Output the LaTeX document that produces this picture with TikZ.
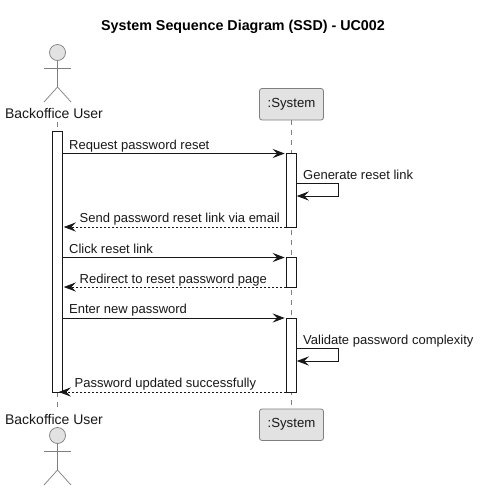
\documentclass[tikz,border=0pt]{standalone}
\usepackage{fontspec}
\setmainfont{Liberation Sans}
\usetikzlibrary{arrows.meta}
\definecolor{ink}{HTML}{181818}
\definecolor{part}{HTML}{E2E2E2}
\definecolor{stroke}{HTML}{7F7F7F}
\tikzset{
  x=1pt,y=-1pt,
  msgtext/.style={anchor=base west,inner sep=0pt,text=ink,font=\fontsize{13}{15}\selectfont},
  actortext/.style={anchor=base,inner sep=0pt,text=ink,font=\fontsize{14}{16}\selectfont},
  titletext/.style={anchor=base,inner sep=0pt,text=black,font=\fontsize{14.3}{16}\selectfont\bfseries},
  bar/.style={draw=ink,fill=white,line width=0.9pt,minimum width=10.5pt,inner sep=0pt,anchor=north,outer sep=0pt},
  partbox/.style={draw=stroke,fill=part,line width=0.8pt,rounded corners=2.5pt,minimum width=64pt,minimum height=31.5pt,inner sep=0pt,text=ink,font=\fontsize{13.2}{16}\selectfont,outer sep=0pt},
  life/.style={draw=stroke,line width=0.7pt,dash pattern=on 5pt off 5pt},
  stick/.style={draw=stroke,line width=0.7pt},
  head/.style={circle,draw=stroke,fill=part,line width=0.7pt,minimum size=16pt,inner sep=0pt,outer sep=0pt},
  tipped/.style={-{Stealth[length=12pt,width=9pt,inset=4.5pt,color=ink]}},
  call/.style={draw=ink,line width=0.9pt,tipped},
  reply/.style={draw=ink,line width=0.7pt,dash pattern=on 2pt off 2pt,tipped},
}
\begin{document}
\begin{tikzpicture}
\useasboundingbox (0,0) rectangle (482,491);
\fill[white] (0,0) rectangle (482,491);
\node[titletext] (title) at (243,30) {System Sequence Diagram (SSD) - UC002};

% participants
\node[partbox] (sysT) at (291.5,104.25) {:System};
\node[partbox] (sysB) at (291.5,424.75) {:System};
\node[head] (headT) at (57.5,52.5) {};
\node[head] (headB) at (57.5,435.5) {};
\node[actortext] (userT) at (54,118) {Backoffice User};
\node[actortext] (userB) at (54,424) {Backoffice User};
\coordinate (lifeUT) at (57.5,122);
\coordinate (lifeUB) at (57.5,407);

% actor figures
\foreach \h/\n in {headT/0,headB/1}{
  \draw[stick] (\h.south) -- ++(0,26.5) coordinate (hip\n);
  \draw[stick] (\h.south) ++(-13.5,7.5) -- ++(27,0);
  \draw[stick] (hip\n) -- ++(-13.5,15);
  \draw[stick] (hip\n) -- ++(13.5,15);
}

% lifelines
\draw[life] (lifeUT) -- (lifeUB);
\draw[life] (sysT.south) -- (sysB.north);

% activation bars
\node[bar,minimum height=260.5pt] (ua) at (57.5,131.5) {};
\node[bar,minimum height=74pt] (s1) at (291.5,153.5) {};
\node[bar,minimum height=30pt] (s2) at (291.5,257.5) {};
\node[bar,minimum height=74pt] (s3) at (291.5,318) {};

% message rows
\coordinate (r1) at (0,153.5);
\coordinate (r2a) at (0,183);
\coordinate (r2b) at (0,196);
\coordinate (r3) at (0,227);
\coordinate (r4) at (0,257.5);
\coordinate (r5) at (0,287);
\coordinate (r6) at (0,318);
\coordinate (r7a) at (0,348);
\coordinate (r7b) at (0,361);
\coordinate (r8) at (0,392);
\coordinate (loopx) at (338.5,0);

\draw[call] (ua.east |- r1) -- ([xshift=-1.5pt]s1.west |- r1);
\draw[call] (s1.east |- r2a) -- (loopx |- r2a) -- (loopx |- r2b) -- (s1.east |- r2b);
\draw[reply] (s1.west |- r3) -- ([xshift=1pt]ua.east |- r3);
\draw[call] (ua.east |- r4) -- ([xshift=-1.5pt]s2.west |- r4);
\draw[reply] (s2.west |- r5) -- ([xshift=1pt]ua.east |- r5);
\draw[call] (ua.east |- r6) -- ([xshift=-1.5pt]s3.west |- r6);
\draw[call] (s3.east |- r7a) -- (loopx |- r7a) -- (loopx |- r7b) -- (s3.east |- r7b);
\draw[reply] (s3.west |- r8) -- ([xshift=-4pt]ua.east |- r8);

% labels
\node[msgtext] (l1) at (69,149) {Request password reset};
\node[msgtext] (l2) at (303,179) {Generate reset link};
\node[msgtext] (l3) at (79.5,222) {Send password reset link via email};
\node[msgtext] (l4) at (69,253) {Click reset link};
\node[msgtext] (l5) at (79.5,283) {Redirect to reset password page};
\node[msgtext] (l6) at (69,313) {Enter new password};
\node[msgtext] (l7) at (303,344) {Validate password complexity};
\node[msgtext] (l8) at (74.5,387) {Password updated successfully};
\end{tikzpicture}
\end{document}
